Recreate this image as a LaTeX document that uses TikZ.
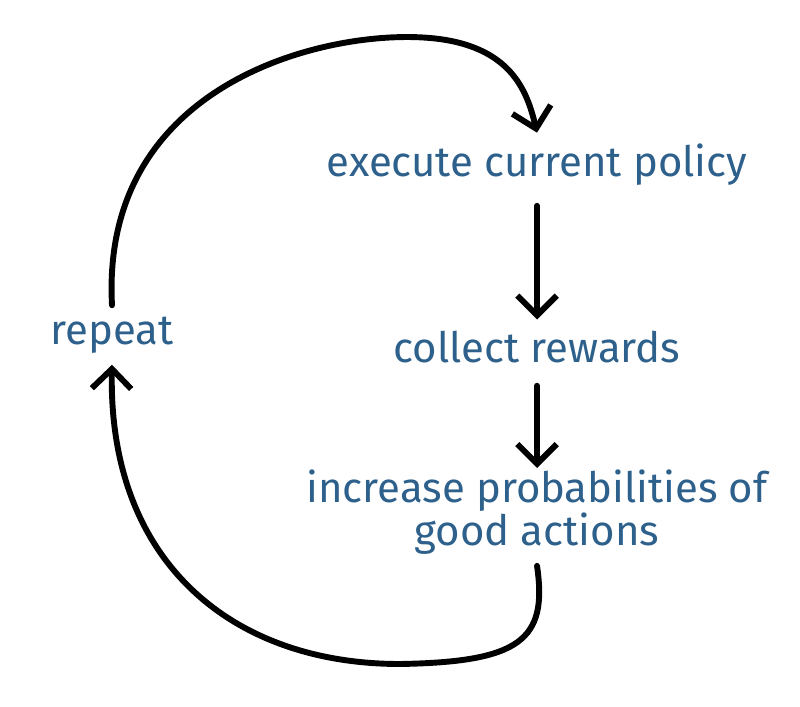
\documentclass[tikz,border=0pt]{standalone}
\usepackage{fontspec}
\setmainfont{Fira Sans}
\usepackage{tikz}
\usetikzlibrary{arrows.meta}
\definecolor{B}{RGB}{46, 96, 140}

\begin{document}
\begin{tikzpicture}[x=0.025cm, y=-0.025cm,
  txt/.style={text=B, font=\fontsize{29.8}{28}\selectfont, inner sep=8pt, align=center},
  arr/.style={line width=4.2pt, line cap=round, line join=round,
    -{Straight Barb[length=14pt, width=28pt]}}]
  \useasboundingbox (0,0) rectangle (800,707);

  \node[txt] (exec) at (537,165) {execute current policy};
  \node[txt] (collect) at (537,347) {collect rewards};
  \node[txt] (incr) at (537,512) {increase probabilities of\\good actions};
  \node[txt] (rep) at (112,335) {repeat};

  \draw[arr, shorten <=6pt] (exec) -- (collect);
  \draw[arr, shorten <=8pt, shorten >=-7pt] (collect) -- (incr);
  \draw[arr] (rep.north) .. controls (100,80) and (330,29) .. (430,38)
        .. controls (510,45) and (527,90) .. (exec.north);
  \draw[arr] (incr.south) .. controls (548,640) and (520,662) .. (400,664)
        .. controls (230,664) and (108,560) .. (rep.south);
\end{tikzpicture}
\end{document}
